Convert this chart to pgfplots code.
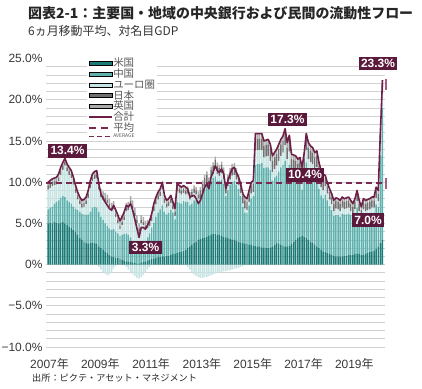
\documentclass[border=0pt]{standalone}
\usepackage{pgfplots}
\pgfplotsset{compat=1.18}
\usepackage{pgfplotstable}
\usepackage{fontspec}
\setmainfont{Liberation Sans}
\newfontfamily\jp{Noto Sans CJK JP}
\definecolor{uscol}{HTML}{1B7B77}
\definecolor{cncol}{HTML}{5EB1AD}
\definecolor{eucol}{HTML}{C6E4E4}
\definecolor{jpcol}{HTML}{707070}
\definecolor{ukcol}{HTML}{ABABAB}
\definecolor{totcol}{HTML}{6D1F48}
\definecolor{labcol}{HTML}{5B1A3C}
\definecolor{avgcol}{HTML}{7A2A52}
\definecolor{markcol}{HTML}{A85A80}

\pgfplotstableread{
t T us cn eu jp uk neg
0 10.0 5.0 1.7 2.4 0.5 0.4 0
1 10.2 5.1 1.8 2.4 0.5 0.4 0
2 10.4 5.0 2.0 2.5 0.5 0.4 0
3 10.5 5.2 2.2 2.2 0.5 0.4 0
4 10.6 5.1 2.5 2.1 0.5 0.4 0
5 11.0 5.0 2.8 2.3 0.5 0.4 0
6 11.8 5.1 3.0 2.8 0.5 0.4 0
7 12.4 5.2 3.1 3.2 0.5 0.4 0
8 12.9 5.0 3.2 3.8 0.5 0.4 0
9 12.2 4.8 3.0 3.5 0.5 0.4 0
10 11.8 4.6 3.0 3.3 0.5 0.4 0
11 11.4 4.5 2.9 3.1 0.5 0.4 0
12 10.6 4.2 2.8 2.7 0.5 0.4 0
13 9.6 4.0 2.8 1.9 0.5 0.4 0
14 8.8 3.6 3.0 1.3 0.5 0.4 0
15 8.2 3.2 3.2 0.9 0.5 0.4 0
16 7.8 3.0 3.2 0.7 0.5 0.4 0
17 7.9 2.8 3.3 0.9 0.5 0.4 0
18 8.2 2.6 3.4 1.3 0.5 0.4 0
19 9.0 2.5 3.6 2.0 0.5 0.4 0
20 10.2 2.6 3.8 2.9 0.5 0.4 0
21 11.0 2.7 4.2 3.2 0.5 0.4 0
22 11.3 2.6 4.4 3.4 0.5 0.4 0
23 11.4 2.5 4.4 3.6 0.5 0.4 0
24 9.8 2.2 4.2 2.7 0.4 0.6 -0.3
25 8.6 2.0 3.8 2.4 0.4 0.6 -0.6
26 8.0 1.8 3.6 2.5 0.4 0.6 -0.9
27 7.6 1.6 3.4 2.7 0.4 0.6 -1.1
28 7.2 1.4 3.3 2.8 0.4 0.6 -1.3
29 6.8 1.2 3.2 2.6 0.4 0.6 -1.2
30 6.6 1.0 3.2 2.3 0.4 0.6 -0.9
31 7.2 0.9 3.4 2.4 0.4 0.6 -0.5
32 6.6 0.8 3.2 1.8 0.4 0.6 -0.2
33 6.0 0.8 3.0 1.2 0.4 0.6 0
34 5.3 0.7 2.8 0.8 0.4 0.6 0
35 5.8 0.6 3.0 1.2 0.4 0.6 0
36 6.4 0.5 3.2 1.7 0.4 0.6 0
37 7.2 0.4 3.4 2.7 0.4 0.6 -0.3
38 7.0 0.4 3.2 3.0 0.4 0.6 -0.6
39 7.4 0.3 3.0 4.0 0.4 0.6 -0.9
40 6.6 0.2 2.6 4.0 0.4 0.6 -1.2
41 5.5 0.2 2.2 3.5 0.4 0.6 -1.4
42 4.4 0.1 1.8 3.1 0.4 0.6 -1.6
43 3.3 0.1 1.6 2.3 0.4 0.6 -1.7
44 4.5 0.2 2.0 2.8 0.4 0.6 -1.5
45 4.5 0.3 2.2 2.3 0.4 0.6 -1.3
46 4.3 0.4 2.4 1.5 0.4 0.6 -1.0
47 4.8 0.5 2.8 1.1 0.4 0.6 -0.6
48 5.3 0.6 3.2 0.9 0.5 0.4 -0.3
49 6.2 0.7 3.8 0.8 0.5 0.4 0
50 7.4 0.7 4.4 1.4 0.5 0.4 0
51 8.2 0.8 5.0 1.5 0.5 0.4 0
52 8.8 0.9 5.4 1.6 0.5 0.4 0
53 9.2 0.9 5.8 1.6 0.5 0.4 0
54 10.0 1.0 6.2 1.9 0.5 0.4 0
55 8.4 1.0 5.4 1.1 0.5 0.4 0
56 7.8 1.1 5.0 0.8 0.5 0.4 0
57 8.0 1.1 5.2 0.8 0.5 0.4 0
58 8.4 1.2 5.4 0.9 0.5 0.4 0
59 7.6 1.3 5.0 0.4 0.5 0.4 0
60 6.8 1.3 4.2 0.4 0.5 0.4 0
61 9.8 1.4 6.2 1.3 0.5 0.4 0
62 9.6 1.5 6.0 1.2 0.5 0.4 0
63 9.4 1.6 5.8 1.1 0.5 0.4 0
64 9.6 1.7 6.0 1.0 0.5 0.4 0
65 9.4 1.8 5.8 0.9 0.5 0.4 0
66 9.2 2.0 5.6 1.0 0.5 0.4 -0.3
67 8.2 2.2 5.0 0.7 0.5 0.4 -0.6
68 8.3 2.4 5.0 0.9 0.5 0.4 -0.9
69 8.4 2.6 5.2 0.9 0.5 0.4 -1.2
70 8.0 2.8 5.0 0.7 0.5 0.4 -1.4
71 7.4 3.0 4.6 0.4 0.5 0.4 -1.5
72 7.8 3.1 4.9 0.0 1.0 0.4 -1.6
73 8.6 3.2 5.6 0.0 1.0 0.4 -1.6
74 9.4 3.3 6.2 0.0 1.0 0.4 -1.5
75 9.8 3.4 6.5 0.0 1.0 0.4 -1.5
76 9.2 3.5 5.7 0.0 1.0 0.4 -1.4
77 10.6 3.6 6.6 0.3 1.0 0.4 -1.3
78 11.2 3.7 6.8 0.5 1.0 0.4 -1.2
79 12.0 3.7 7.0 1.0 1.0 0.4 -1.1
80 11.4 3.6 6.6 0.8 1.0 0.4 -1.0
81 11.2 3.6 6.6 0.5 1.0 0.4 -0.9
82 11.6 3.5 6.8 0.8 1.0 0.4 -0.9
83 11.0 3.4 6.4 0.6 1.0 0.4 -0.8
84 9.2 3.3 5.0 0.3 1.0 0.4 -0.8
85 10.2 3.2 5.8 0.5 1.0 0.4 -0.7
86 11.0 3.1 6.6 0.6 1.0 0.4 -0.7
87 11.6 3.0 7.0 0.8 1.0 0.4 -0.6
88 11.8 3.0 7.2 0.7 1.0 0.4 -0.5
89 11.2 2.9 6.8 0.6 1.0 0.4 -0.5
90 10.6 2.8 6.4 0.4 1.0 0.4 -0.4
91 9.8 2.7 5.6 0.4 1.0 0.4 -0.3
92 8.6 2.6 4.4 0.4 1.0 0.4 -0.2
93 8.2 2.5 3.8 0.5 1.0 0.4 0
94 8.0 2.5 3.8 0.3 1.0 0.4 0
95 9.0 2.4 4.8 0.4 1.0 0.4 0
96 10.0 2.4 5.6 0.6 1.0 0.4 0
97 10.2 2.3 6.0 0.5 1.0 0.4 0
98 15.9 2.3 9.8 1.8 1.4 0.6 0
99 15.9 2.2 10.0 1.7 1.4 0.6 0
100 15.9 2.2 10.0 1.7 1.4 0.6 0
101 15.9 2.1 10.2 1.6 1.4 0.6 0
102 15.0 2.1 9.6 1.3 1.4 0.6 0
103 15.1 2.0 9.8 1.3 1.4 0.6 0
104 15.2 2.0 9.8 1.4 1.4 0.6 0
105 14.6 2.1 9.4 1.1 1.4 0.6 0
106 13.2 2.2 8.0 1.0 1.4 0.6 0
107 13.6 2.4 8.2 1.0 1.4 0.6 0
108 14.0 2.6 8.2 1.2 1.4 0.6 0
109 14.6 2.5 8.8 1.3 1.4 0.6 0
110 15.2 2.4 9.4 1.4 1.4 0.6 0
111 15.6 2.3 9.8 1.5 1.4 0.6 0
112 16.5 2.2 10.4 1.9 1.4 0.6 0
113 14.8 2.2 9.2 1.4 1.4 0.6 0
114 15.7 2.3 9.8 1.6 1.4 0.6 0
115 13.4 2.5 7.8 1.1 1.4 0.6 0
116 13.3 2.8 7.4 1.1 1.4 0.6 0
117 13.2 3.0 7.2 1.0 1.4 0.6 0
118 12.8 3.2 6.6 1.0 1.4 0.6 0
119 13.0 3.4 6.6 1.0 1.4 0.6 0
120 11.8 3.5 5.6 0.7 1.4 0.6 0
121 13.5 3.4 7.0 1.1 1.4 0.6 0
122 15.9 3.2 9.2 1.5 1.4 0.6 0
123 14.8 3.0 8.4 1.4 1.4 0.6 0
124 14.4 2.8 8.2 1.4 1.4 0.6 0
125 14.2 2.6 8.2 1.4 1.4 0.6 0
126 13.6 2.4 7.8 1.4 1.4 0.6 0
127 13.8 2.2 8.2 1.4 1.4 0.6 0
128 12.4 2.0 7.2 1.2 1.4 0.6 0
129 11.4 1.8 6.6 1.0 1.4 0.6 0
130 11.0 1.6 6.4 1.0 1.4 0.6 0
131 10.8 1.5 7.0 1.0 0.9 0.4 0
132 9.9 1.4 6.4 0.8 0.9 0.4 0
133 9.2 1.3 5.8 0.8 0.9 0.4 0
134 8.6 1.2 5.4 0.7 0.9 0.4 0
135 7.8 1.1 4.8 0.6 0.9 0.4 0
136 8.1 1.0 5.0 0.8 0.9 0.4 0
137 8.0 1.0 5.0 0.7 0.9 0.4 0
138 7.8 1.0 4.8 0.7 0.9 0.4 0
139 8.2 1.0 5.2 0.7 0.9 0.4 0
140 8.0 1.1 5.0 0.6 0.9 0.4 0
141 8.1 1.1 5.0 0.7 0.9 0.4 0
142 8.2 1.2 5.0 0.7 0.9 0.4 0
143 7.8 1.2 4.8 0.5 0.9 0.4 0
144 7.4 1.2 4.4 0.5 0.9 0.4 0
145 8.0 1.3 4.8 0.6 0.9 0.4 0
146 9.0 1.3 5.6 0.8 0.9 0.4 0
147 7.8 1.3 4.6 0.6 0.9 0.4 0
148 7.0 1.2 4.0 0.5 0.9 0.4 0
149 8.0 1.2 4.8 0.7 0.9 0.4 0
150 7.8 1.3 4.6 0.6 0.9 0.4 0
151 7.9 1.4 4.6 0.6 0.9 0.4 0
152 8.0 1.5 4.6 0.6 0.9 0.4 0
153 8.2 1.6 4.6 0.7 0.9 0.4 0
154 8.2 1.7 4.6 0.6 0.9 0.4 0
155 9.4 1.9 5.4 0.8 0.9 0.4 0
156 9.0 2.2 4.8 0.7 0.9 0.4 0
157 16.0 2.6 10.6 1.5 0.9 0.4 0
158 22.4 3.0 16.0 2.1 0.9 0.4 0
}\data

\pgfplotsset{
  base/.style={
    scale only axis, width=338.7bp, height=288.4bp,
    xmin=-1, xmax=159, ymin=-10, ymax=25,
    at={(45.9bp,42bp)}, anchor=south west,
    axis line style={draw=none}, tick style={draw=none},
  },
  barleg/.style={legend image code/.code={\fill[##1] (0bp,-2bp) rectangle (23bp,2bp);}},
  lineleg/.style={legend image code/.code={\draw[##1] (0bp,0bp) -- (23bp,0bp);}},
}
\tikzset{
  lab/.style={fill=labcol, text=white, font=\bfseries\fontsize{12}{12}\selectfont, inner xsep=2.5bp, inner ysep=2.5bp},
}

\begin{document}
\begin{tikzpicture}
\useasboundingbox (0,0) rectangle (422bp,389bp);

% axis 1: grid, ticks, negative bars
\begin{axis}[base,
  ytick={-10,-5,...,25},
  yticklabels={−10.0\%,−5.0\%,0\%,5.0\%,10.0\%,15.0\%,20.0\%,25.0\%},
  minor ytick={-10,-9,...,24},
  yminorgrids, ymajorgrids=false,
  minor grid style={black!18, line width=0.7bp},
  xtick={0.7,24.7,...,144.7},
  xticklabels={2007{\jp 年},2009{\jp 年},2011{\jp 年},2013{\jp 年},2015{\jp 年},2017{\jp 年},2019{\jp 年}},
  ticklabel style={font=\fontsize{12}{14}\selectfont, text=black!78},
  yticklabel style={inner xsep=3.2bp},
  xticklabel style={yshift=-4bp},
  /pgf/number format/assume math mode=true,
  ybar, bar width=0.7, bar shift=0pt,
]
\addplot[fill=eucol, draw=none] table[x=t, y=neg]{\data};
\end{axis}

% axis 2: positive stacked bars
\begin{axis}[base, hide axis, ybar stacked, bar width=0.7]
\addplot[fill=uscol, draw=none] table[x=t, y=us]{\data};
\addplot[fill=cncol, draw=none] table[x=t, y=cn]{\data};
\addplot[fill=eucol, draw=none] table[x=t, y=eu]{\data};
\addplot[fill=jpcol, draw=none] table[x=t, y=jp]{\data};
\addplot[fill=ukcol, draw=none] table[x=t, y=uk]{\data};
\end{axis}

% axis 3: lines, legend, labels
\begin{axis}[base, hide axis, clip=false,
  legend style={at={(0.121,1.008)}, anchor=north west, draw=none, fill=white,
    inner sep=1bp, row sep=-0.6bp,
    font=\jp\fontsize{10.5}{10.5}\selectfont, text=black!65,
    nodes={inner sep=0.6bp}},
  legend cell align=left,
]
\addlegendimage{barleg, fill=uscol}\addlegendentry{米国}
\addlegendimage{barleg, fill=cncol}\addlegendentry{中国}
\addlegendimage{barleg, fill=eucol}\addlegendentry{ユーロ圏}
\addlegendimage{barleg, fill=jpcol}\addlegendentry{日本}
\addlegendimage{barleg, fill=ukcol}\addlegendentry{英国}
\addlegendimage{lineleg, color=totcol, line width=1.6bp}\addlegendentry{合計}
\addlegendimage{lineleg, color=avgcol, line width=1.5bp, dash pattern=on 7bp off 5bp}\addlegendentry{平均}
\addlegendimage{lineleg, color=avgcol, line width=1.5bp, dash pattern=on 5bp off 3bp}\addlegendentry{\fontsize{5}{5}\selectfont AVERAGE}

\addplot[color=avgcol, line width=1.5bp, dash pattern=on 6bp off 4bp, forget plot] coordinates {(-1,9.9) (159,9.9)};
\addplot[color=totcol, line width=1.6bp, line join=round, forget plot] table[x=t, y=T]{\data};
\addplot[only marks, mark=|, mark size=5.5bp, color=markcol, mark options={line width=2.4bp}, forget plot] coordinates {(159.7,21.9) (159.7,9.9)};

\node[lab] at (axis cs:9.2,13.8) {13.4\%};
\node[lab] at (axis cs:46.1,2.1) {3.3\%};
\node[lab] at (axis cs:113.1,17.6) {17.3\%};
\node[lab] at (axis cs:121.4,10.9) {10.4\%};
\node[lab] at (axis cs:151.2,5.4) {7.0\%};
\node[lab] at (axis cs:155.9,24.4) {23.3\%};
\end{axis}

\node[anchor=base west, inner sep=0, font=\jp\bfseries\fontsize{14}{14}\selectfont, text=black!85] at (28bp,370bp) {図表2-1：主要国・地域の中央銀行および民間の流動性フロー};
\node[anchor=base west, inner sep=0, font=\jp\fontsize{12}{12}\selectfont, text=black!80] at (28bp,353bp) {6ヵ月移動平均、対名目GDP};
\node[anchor=base west, inner sep=0, font=\jp\fontsize{9.2}{9.2}\selectfont, text=black!85] at (32bp,8bp) {出所：ピクテ・アセット・マネジメント};
\end{tikzpicture}
\end{document}
